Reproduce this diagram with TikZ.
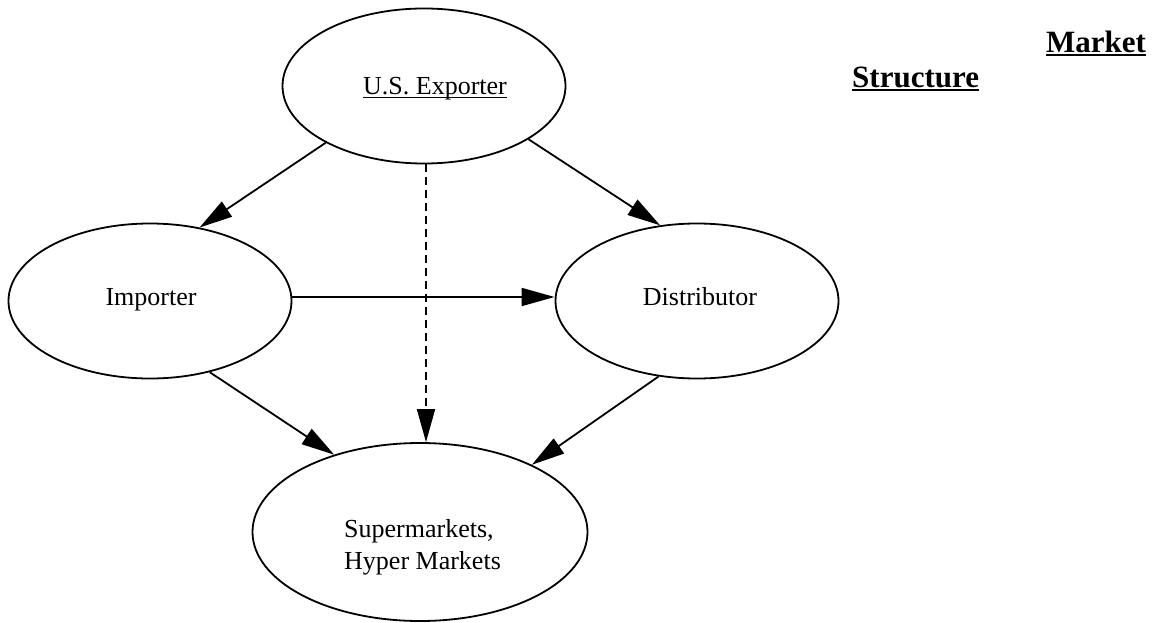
\documentclass[tikz,border=0pt]{standalone}
\usepackage{fontspec}
\setmainfont{Liberation Serif}
\usetikzlibrary{arrows.meta,shapes.geometric}

% underline drawn through the descenders, as a word processor does
\newcommand\wpul[2][1.4pt]{\leavevmode\setbox0\hbox{#2}\rlap{\rule[-3pt]{\wd0}{#1}}\box0}

\tikzset{
  oval/.style={draw, line width=1.8pt, ellipse, inner sep=0pt,
               minimum width=283pt, minimum height=155pt},
  txt/.style={inner sep=0pt, anchor=base, font=\fontsize{26}{32}\selectfont},
  ttl/.style={inner sep=0pt, anchor=base west, font=\fontsize{31}{36}\selectfont\bfseries},
  flow/.style={line width=1.8pt, -{Triangle[length=33pt,width=18pt]}},
  maybe/.style={flow, dash pattern=on 8pt off 5pt}
}

\begin{document}
\begin{tikzpicture}[x=1pt, y=-1pt]
  \useasboundingbox (0,0) rectangle (1161,623);

  % the four trading parties
  \node[oval] (exp) at (424,86) {};
  \node[oval] (imp) at (150,301) {};
  \node[oval] (dist) at (697,301) {};
  \node[oval, minimum width=335pt, minimum height=178pt] (sup) at (420,532) {};

  \node[txt] (expT) at (435,95) {\wpul[1.2pt]{U.S. Exporter}};
  \node[txt] (impT) at (151,305) {Importer};
  \node[txt] (distT) at (700,305) {Distributor};
  % a multi-line node sits on the baseline of its last line
  \node[txt, anchor=base west, align=left] (supT) at (344,569) {Supermarkets,\\Hyper Markets};

  % heading
  \node[ttl] (hd1) at (1046,53) {\wpul[2pt]{Market}};
  \node[ttl] (hd2) at (852,88) {\wpul[2pt]{Structure}};

  % trade channels
  \draw[flow] (exp.210.9) -- (imp.56.7);
  \draw[flow] (exp.333.4) -- (dist.116.6);
  \draw[flow] ([yshift=4pt]imp.east) -- ([yshift=4pt]dist.west);
  \draw[flow] (imp.310.2) -- (sup.138.5);
  \draw[flow] (dist.243.1) -- (sup.31.8);
  \draw[maybe] ([xshift=2pt]exp.south) -- ([xshift=2pt]exp.south |- sup.north);
\end{tikzpicture}
\end{document}
